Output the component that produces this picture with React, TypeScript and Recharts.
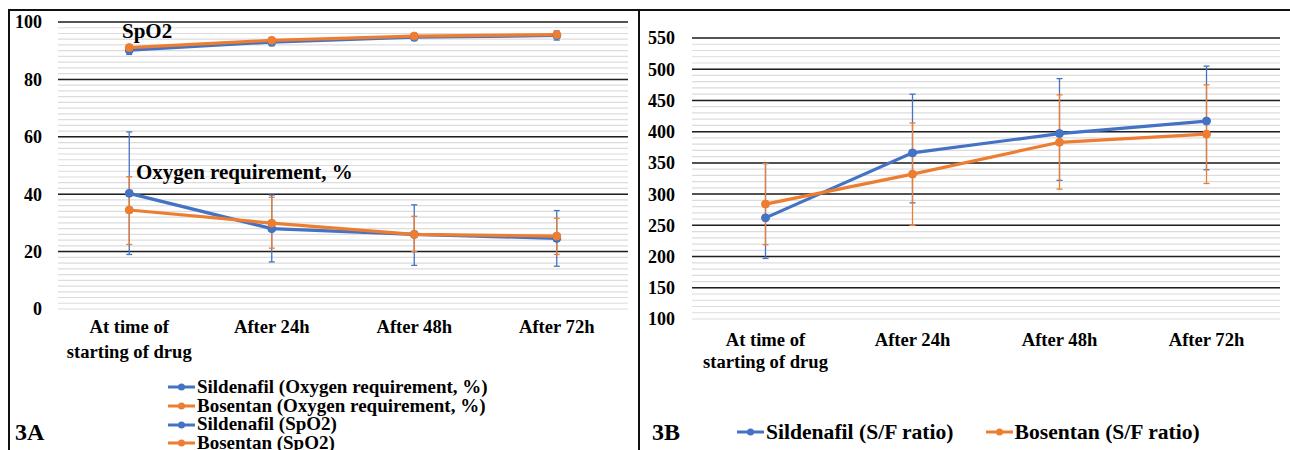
import React from 'react';
import { LineChart, Line, XAxis, YAxis, CartesianGrid, ErrorBar } from 'recharts';

// ---------- shared categories ----------
const categories = ['At time of starting of drug', 'After 24h', 'After 48h', 'After 72h'];
// how each category label is broken into lines (as in the original)
const categoryLines = [['At time of', 'starting of drug'], ['After 24h'], ['After 48h'], ['After 72h']];

// ---------- 3A : Oxygen requirement (%) and SpO2 ----------
const sildenafilO2 = [40.3, 28.0, 26.0, 24.6];
const sildenafilO2Err = [[21.3, 21.4], [11.6, 11.7], [10.8, 10.3], [9.7, 9.7]];
const bosentanO2 = [34.5, 29.9, 26.0, 25.4];
const bosentanO2Err = [[12.0, 11.6], [8.7, 9.0], [6.0, 6.3], [6.4, 6.2]];
const sildenafilSpO2 = [90.2, 93.0, 94.7, 95.3];
const sildenafilSpO2Err = [1.5, 1.3, 1.2, 1.6];
const bosentanSpO2 = [91.1, 93.6, 95.1, 95.6];
const bosentanSpO2Err = [1.0, 0.8, 0.8, 0.8];
const leftTicks = [0, 20, 40, 60, 80, 100];
const leftMinorStep = 2;

// ---------- 3B : S/F ratio ----------
const sildenafilSF = [262, 366, 397, 417];
const sildenafilSFErr = [[65, 87], [80, 94], [75, 88], [78, 88]];
const bosentanSF = [284, 332, 383, 396];
const bosentanSFErr = [[65, 65], [82, 82], [75, 76], [79, 79]];
const rightTicks = [100, 150, 200, 250, 300, 350, 400, 450, 500, 550];
const rightMinorStep = 10;

// ---------- legends / labels ----------
const leftLegend = [
  { name: 'Sildenafil (Oxygen requirement, %)', color: '#4472C4' },
  { name: 'Bosentan (Oxygen requirement, %)', color: '#ED7D31' },
  { name: 'Sildenafil (SpO2)', color: '#4472C4' },
  { name: 'Bosentan (SpO2)', color: '#ED7D31' },
];
const rightLegend = [
  { name: 'Sildenafil (S/F ratio)', color: '#4472C4' },
  { name: 'Bosentan (S/F ratio)', color: '#ED7D31' },
];

const BLUE = '#4472C4';
const ORANGE = '#ED7D31';
const FONT = "'Liberation Serif', 'Times New Roman', serif";

const leftData = categories.map((c, i) => ({
  cat: c,
  sO2: sildenafilO2[i],
  sO2Err: sildenafilO2Err[i],
  bO2: bosentanO2[i],
  bO2Err: bosentanO2Err[i],
  sSp: sildenafilSpO2[i],
  sSpErr: sildenafilSpO2Err[i],
  bSp: bosentanSpO2[i],
  bSpErr: bosentanSpO2Err[i],
}));

const rightData = categories.map((c, i) => ({
  cat: c,
  sSF: sildenafilSF[i],
  sSFErr: sildenafilSFErr[i],
  bSF: bosentanSF[i],
  bSFErr: bosentanSFErr[i],
}));

const minorValues = (ticks: number[], step: number) => {
  const lo = ticks[0];
  const hi = ticks[ticks.length - 1];
  const out: number[] = [];
  for (let v = lo; v <= hi + 1e-9; v += step) out.push(v);
  return out;
};

const tickStyle = { fontFamily: FONT, fontSize: 18, fontWeight: 'bold' as const };

const makeXTick = (lineHeight: number, baselineDy: number) => (props: any) => {
  const { x, y, payload, index } = props;
  const idx = categories.indexOf(payload.value);
  const lines = categoryLines[idx >= 0 ? idx : index] || [String(payload.value)];
  return (
    <text x={x} y={y + baselineDy} textAnchor="middle" fontFamily={FONT} fontSize={18.6} fontWeight="bold" fill="#000">
      {lines.map((ln: string, i: number) => (
        <tspan key={i} x={x} dy={i === 0 ? 0 : lineHeight}>
          {ln}
        </tspan>
      ))}
    </text>
  );
};

const dotOf = (color: string) => ({ r: 4, fill: color, stroke: color, strokeWidth: 1 });

const Marker = ({ color }: { color: string }) => (
  <svg width={27} height={10} style={{ display: 'block', flex: 'none' }}>
    <line x1={0} y1={5} x2={27} y2={5} stroke={color} strokeWidth={3} />
    <circle cx={13.5} cy={5} r={3.5} fill={color} />
  </svg>
);

export default function App() {
  const leftMinor = minorValues(leftTicks, leftMinorStep);
  const leftMajor = leftTicks.slice(1);
  const rightMinor = minorValues(rightTicks, rightMinorStep);
  const rightMajor = rightTicks.slice(1);

  return (
    <div
      style={{
        position: 'absolute',
        left: 0,
        top: 0,
        width: 1290,
        height: 450,
        overflow: 'hidden',
        background: '#fff',
        fontFamily: FONT,
        color: '#000',
      }}
    >
      {/* frames */}
      <div style={{ position: 'absolute', left: 9, top: 9, width: 1281, height: 2, background: '#111' }} />
      <div style={{ position: 'absolute', left: 8, top: 9, width: 2, height: 441, background: '#111' }} />
      <div style={{ position: 'absolute', left: 638, top: 9, width: 2, height: 441, background: '#111' }} />

      {/* Chart 3A */}
      <div style={{ position: 'absolute', left: 0, top: 0 }}>
        <LineChart width={640} height={450} data={leftData} margin={{ top: 22, right: 12, left: 0, bottom: 0 }}>
          <CartesianGrid vertical={false} horizontalValues={leftMinor} stroke="#dcdcdc" strokeWidth={1.2} />
          <CartesianGrid vertical={false} horizontalValues={leftMajor} stroke="#1f1f1f" strokeWidth={1.5} />
          <XAxis
            dataKey="cat"
            type="category"
            interval={0}
            axisLine={false}
            tickLine={false}
            tickSize={0}
            tickMargin={0}
            height={141}
            padding={{ left: 71.25, right: 71.25 }}
            tick={makeXTick(25, 24)}
          />
          <YAxis
            type="number"
            domain={[0, 100]}
            ticks={leftTicks}
            interval={0}
            width={58}
            axisLine={false}
            tickLine={false}
            tickSize={0}
            tickMargin={16}
            tick={{ fill: '#000', ...tickStyle }}
          />
          <Line dataKey="sO2" stroke={BLUE} strokeWidth={3.2} dot={dotOf(BLUE)} activeDot={false} isAnimationActive={false}>
            <ErrorBar dataKey="sO2Err" direction="y" width={3} stroke={BLUE} strokeWidth={1.3} isAnimationActive={false} />
          </Line>
          <Line dataKey="bO2" stroke={ORANGE} strokeWidth={3.2} dot={dotOf(ORANGE)} activeDot={false} isAnimationActive={false}>
            <ErrorBar dataKey="bO2Err" direction="y" width={3} stroke={ORANGE} strokeWidth={1.3} isAnimationActive={false} />
          </Line>
          <Line dataKey="sSp" stroke={BLUE} strokeWidth={3.2} dot={dotOf(BLUE)} activeDot={false} isAnimationActive={false}>
            <ErrorBar dataKey="sSpErr" direction="y" width={3} stroke={BLUE} strokeWidth={1.3} isAnimationActive={false} />
          </Line>
          <Line dataKey="bSp" stroke={ORANGE} strokeWidth={3.2} dot={dotOf(ORANGE)} activeDot={false} isAnimationActive={false}>
            <ErrorBar dataKey="bSpErr" direction="y" width={3} stroke={ORANGE} strokeWidth={1.3} isAnimationActive={false} />
          </Line>
        </LineChart>
      </div>

      {/* annotations 3A */}
      <div style={{ position: 'absolute', left: 122, top: 21, fontSize: 21, fontWeight: 'bold', lineHeight: 1, whiteSpace: 'nowrap' }}>
        SpO2
      </div>
      <div style={{ position: 'absolute', left: 136, top: 162, fontSize: 21, fontWeight: 'bold', lineHeight: 1, whiteSpace: 'nowrap' }}>
        Oxygen requirement, %
      </div>

      {/* legend 3A */}
      <div style={{ position: 'absolute', left: 168, top: 378 }}>
        {leftLegend.map((it) => (
          <div key={it.name} style={{ display: 'flex', alignItems: 'center', height: 18.7, lineHeight: '18.7px', fontSize: 19, fontWeight: 'bold', whiteSpace: 'nowrap' }}>
            <Marker color={it.color} />
            <span style={{ marginLeft: 2 }}>{it.name}</span>
          </div>
        ))}
      </div>
      <div style={{ position: 'absolute', left: 15, top: 418, fontSize: 24, fontWeight: 'bold', lineHeight: '28px' }}>3A</div>

      {/* Chart 3B */}
      <div style={{ position: 'absolute', left: 640, top: 0 }}>
        <LineChart width={650} height={450} data={rightData} margin={{ top: 38, right: 10, left: 0, bottom: 0 }}>
          <CartesianGrid vertical={false} horizontalValues={rightMinor} stroke="#dcdcdc" strokeWidth={1.2} />
          <CartesianGrid vertical={false} horizontalValues={rightMajor} stroke="#1f1f1f" strokeWidth={1.5} />
          <XAxis
            dataKey="cat"
            type="category"
            interval={0}
            axisLine={false}
            tickLine={false}
            tickSize={0}
            tickMargin={0}
            height={131}
            padding={{ left: 73.5, right: 73.5 }}
            tick={makeXTick(22, 27)}
          />
          <YAxis
            type="number"
            domain={[100, 550]}
            ticks={rightTicks}
            interval={0}
            width={52}
            axisLine={false}
            tickLine={false}
            tickSize={0}
            tickMargin={17}
            tick={{ fill: '#000', ...tickStyle }}
          />
          <Line dataKey="sSF" stroke={BLUE} strokeWidth={3.2} dot={dotOf(BLUE)} activeDot={false} isAnimationActive={false}>
            <ErrorBar dataKey="sSFErr" direction="y" width={3} stroke={BLUE} strokeWidth={1.3} isAnimationActive={false} />
          </Line>
          <Line dataKey="bSF" stroke={ORANGE} strokeWidth={3.2} dot={dotOf(ORANGE)} activeDot={false} isAnimationActive={false}>
            <ErrorBar dataKey="bSFErr" direction="y" width={3} stroke={ORANGE} strokeWidth={1.3} isAnimationActive={false} />
          </Line>
        </LineChart>
      </div>

      {/* legend 3B */}
      <div style={{ position: 'absolute', left: 652, top: 418, fontSize: 24, fontWeight: 'bold', lineHeight: '28px' }}>3B</div>
      <div style={{ position: 'absolute', left: 737, top: 420, height: 24, display: 'flex', alignItems: 'center', fontSize: 21.6, fontWeight: 'bold', whiteSpace: 'nowrap' }}>
        {rightLegend.map((it, i) => (
          <div key={it.name} style={{ display: 'flex', alignItems: 'center', marginRight: i === 0 ? 32 : 0 }}>
            <Marker color={it.color} />
            <span style={{ marginLeft: 2 }}>{it.name}</span>
          </div>
        ))}
      </div>
    </div>
  );
}
